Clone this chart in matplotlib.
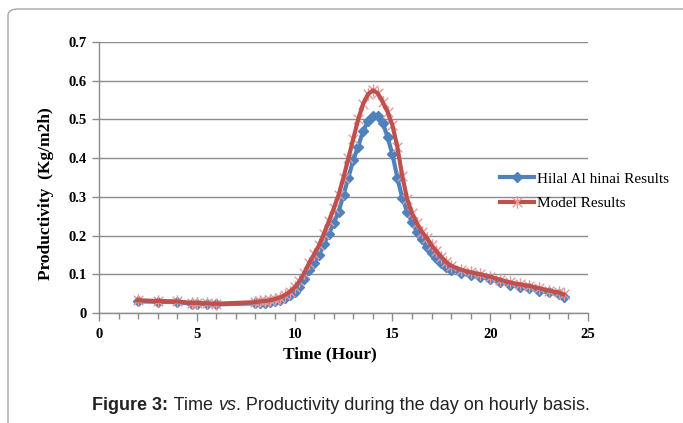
import matplotlib
matplotlib.use("Agg")
import matplotlib.pyplot as plt
from matplotlib.patches import FancyBboxPatch
from matplotlib.path import Path
from matplotlib.offsetbox import TextArea, HPacker, AnchoredOffsetbox

hours = [2, 3, 4, 4.75, 5, 5.5, 6,
         8, 8.25, 8.5, 8.75, 9, 9.25, 9.5, 9.75, 10, 10.25, 10.5, 10.75,
         11, 11.25, 11.5, 11.75, 12, 12.25, 12.5, 12.75, 13, 13.25, 13.5, 13.75,
         14, 14.25, 14.5, 14.75, 15, 15.25, 15.5, 15.75, 16, 16.25, 16.5, 16.75,
         17, 17.25, 17.5, 17.75, 18, 18.5, 19, 19.5, 20, 20.5, 21, 21.5, 22,
         22.5, 23, 23.5, 23.75]

hilal = [0.030, 0.029, 0.028, 0.024, 0.024, 0.023, 0.022,
         0.025, 0.026, 0.027, 0.029, 0.031, 0.034, 0.039, 0.046, 0.055, 0.068, 0.088, 0.110,
         0.130, 0.150, 0.178, 0.205, 0.232, 0.262, 0.305, 0.350, 0.395, 0.430, 0.470, 0.495,
         0.508, 0.508, 0.492, 0.455, 0.410, 0.350, 0.298, 0.262, 0.235, 0.210, 0.190, 0.170,
         0.155, 0.142, 0.130, 0.120, 0.112, 0.103, 0.097, 0.093, 0.088, 0.080, 0.073, 0.068,
         0.064, 0.058, 0.053, 0.048, 0.042]

model = [0.033, 0.031, 0.030, 0.026, 0.026, 0.025, 0.024,
         0.028, 0.030, 0.031, 0.033, 0.036, 0.040, 0.046, 0.055, 0.066, 0.082, 0.104, 0.130,
         0.152, 0.175, 0.205, 0.237, 0.270, 0.305, 0.350, 0.400, 0.450, 0.500, 0.540, 0.565,
         0.575, 0.568, 0.545, 0.520, 0.485, 0.430, 0.355, 0.295, 0.258, 0.232, 0.210, 0.195,
         0.175, 0.160, 0.145, 0.132, 0.122, 0.112, 0.105, 0.100, 0.094, 0.086, 0.079, 0.074,
         0.070, 0.064, 0.058, 0.053, 0.048]

x_ticks = [0, 5, 10, 15, 20, 25]
y_ticks = [0, 0.1, 0.2, 0.3, 0.4, 0.5, 0.6, 0.7]
y_tick_labels = ["0", "0.1", "0.2", "0.3", "0.4", "0.5", "0.6", "0.7"]
series_names = ["Hilal Al hinai Results", "Model Results"]

BLUE = "#4F81BD"
RED = "#C0504D"
GRID = "#8C8C8C"

serif = "Liberation Serif"

fig = plt.figure(figsize=(6.83, 4.23), dpi=100)

# outer frame with rounded corner
frame = FancyBboxPatch((8 / 683, -0.2), 1.2, 1.2 - 9 / 423,
                       boxstyle="round,pad=0,rounding_size=0.015",
                       transform=fig.transFigure, fill=False,
                       edgecolor="#A6A6A6", linewidth=1.0, zorder=0)
fig.patches.append(frame)

ax = fig.add_axes([99 / 683, 1 - 313 / 423, (588 - 99) / 683, (313 - 42) / 423])
ax.set_xlim(0, 25)
ax.set_ylim(0, 0.7)

# star marker: X plus vertical line
star = Path([(-1, -1), (1, 1), (-1, 1), (1, -1), (0, -1.3), (0, 1.3)],
            [Path.MOVETO, Path.LINETO, Path.MOVETO, Path.LINETO, Path.MOVETO, Path.LINETO])

ax.plot(hours, hilal, color=BLUE, linewidth=3.0, marker="D", markersize=4.8,
        markerfacecolor=BLUE, markeredgecolor=BLUE, label=series_names[0], zorder=3)
ax.plot(hours, model, color=RED, linewidth=0, marker=star, markersize=9,
        markeredgecolor="#E39A98", markeredgewidth=1.0, zorder=4)
ax.plot(hours, model, color=RED, linewidth=3.0, zorder=5)
# legend proxy for model
ax.plot([], [], color=RED, linewidth=3.0, marker=star, markersize=9,
        markeredgecolor="#E39A98", markeredgewidth=1.0, label=series_names[1])

ax.set_yticks(y_ticks)
ax.set_yticklabels(y_tick_labels)
ax.set_xticks(x_ticks)
ax.set_xticks(range(0, 26), minor=True)
ax.yaxis.grid(True, color=GRID, linewidth=1.0)
ax.set_axisbelow(True)

for s in ["top", "right"]:
    ax.spines[s].set_visible(False)
for s in ["left", "bottom"]:
    ax.spines[s].set_color(GRID)
    ax.spines[s].set_linewidth(1.0)

ax.tick_params(axis="x", which="major", direction="out", length=6, color=GRID, width=1,
               pad=5)
ax.tick_params(axis="x", which="minor", direction="out", length=4, color=GRID, width=1)
ax.tick_params(axis="y", which="major", direction="out", length=5, color=GRID, width=1,
               pad=4)
for lbl in ax.get_xticklabels() + ax.get_yticklabels():
    lbl.set_fontfamily(serif)
    lbl.set_fontweight("bold")
    lbl.set_fontsize(10.5)

ax.set_xlabel("Time (Hour)", fontfamily=serif, fontweight="bold", fontsize=12.5)
ax.xaxis.set_label_coords((330 - 99) / 489, -(346 - 313) / 271)
ax.set_ylabel("Productivity  (Kg/m2h)", fontfamily=serif, fontweight="bold", fontsize=12.5)
ax.yaxis.set_label_coords(-(99 - 54) / 489, (313 - 194) / 271)

leg = ax.legend(loc="upper left", bbox_to_anchor=(500 / 683, 1 - 172 / 423),
                bbox_transform=fig.transFigure, frameon=False,
                prop={"family": serif, "size": 11}, handlelength=2.2,
                handletextpad=0.2, labelspacing=0.7, borderaxespad=0, borderpad=0)
leg.set_zorder(10)

# caption
cap_kw = dict(family="Liberation Sans", size=13, color="#222222")
parts = [
    TextArea("Figure 3:", textprops=dict(cap_kw, weight="bold")),
    TextArea(" Time ", textprops=cap_kw),
    TextArea("vs", textprops=dict(cap_kw, style="italic")),
    TextArea(". Productivity during the day on hourly basis.", textprops=cap_kw),
]
pack = HPacker(children=parts, align="baseline", pad=0, sep=0)
anch = AnchoredOffsetbox(loc="center", child=pack, pad=0, frameon=False,
                         bbox_to_anchor=(341 / 683, 1 - 405 / 423),
                         bbox_transform=fig.transFigure, borderpad=0)
fig.add_artist(anch)

fig.savefig("out.png", dpi=100)
